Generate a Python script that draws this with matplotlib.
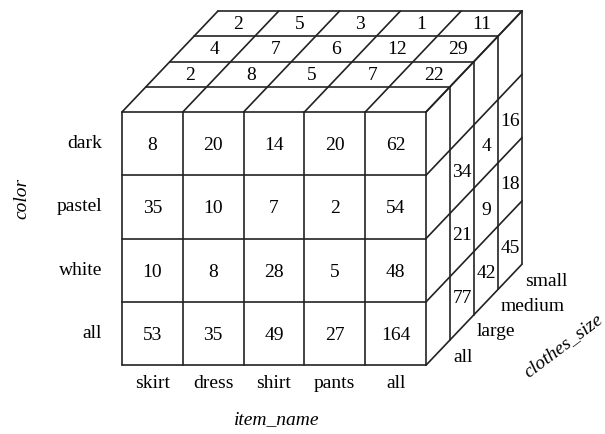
import matplotlib.pyplot as plt

# data cube: item_name x color x clothes_size
items = ['skirt', 'dress', 'shirt', 'pants', 'all']
colors = ['dark', 'pastel', 'white', 'all']
sizes = ['all', 'large', 'medium', 'small']

# front face (size = all)
front_dark = [8, 20, 14, 20, 62]
front_pastel = [35, 10, 7, 2, 54]
front_white = [10, 8, 28, 5, 48]
front_all = [53, 35, 49, 27, 164]

# top face (color = dark) per size
top_large = [2, 8, 5, 7, 22]
top_medium = [4, 7, 6, 12, 29]
top_small = [2, 5, 3, 1, 11]

# right face (item = all), rows pastel / white / all
side_large = [34, 21, 77]
side_medium = [4, 9, 42]
side_small = [16, 18, 45]

plt.rcParams['font.family'] = ['Liberation Serif', 'DejaVu Serif']
FS = 14

fig = plt.figure(figsize=(6.05, 4.34), dpi=100)
ax = fig.add_axes([0, 0, 1, 1])
ax.set_xlim(0, 605)
ax.set_ylim(434, 0)
ax.axis('off')

# cube geometry (pixels)
x0, y0 = 122, 112
cw, rh = 60.8, 63.3
dx, dy = 24, 25.25
nc, nr, nd = len(items), len(colors), len(sizes)
xr = x0 + nc * cw
yb = y0 + nr * rh
lk = dict(color='#222222', lw=1.2, solid_capstyle='round')

# front face
for r in range(nr + 1):
    ax.plot([x0, xr], [y0 + r * rh] * 2, **lk)
for c in range(nc + 1):
    ax.plot([x0 + c * cw] * 2, [y0, yb], **lk)
# top face
for k in range(1, nd + 1):
    ax.plot([x0 + dx * k, xr + dx * k], [y0 - dy * k] * 2, **lk)
for c in range(nc + 1):
    ax.plot([x0 + c * cw, x0 + c * cw + nd * dx], [y0, y0 - nd * dy], **lk)
# right face
for k in range(1, nd + 1):
    ax.plot([xr + dx * k] * 2, [y0 - dy * k, yb - dy * k], **lk)
for r in range(nr + 1):
    ax.plot([xr, xr + nd * dx], [y0 + r * rh, y0 + r * rh - nd * dy], **lk)

# front numbers
for r, row in enumerate([front_dark, front_pastel, front_white, front_all]):
    for c, v in enumerate(row):
        ax.text(x0 + (c + 0.5) * cw, y0 + (r + 0.5) * rh + 2, str(v),
                ha='center', va='center', fontsize=FS)

# top numbers
for j, row in [(1, top_large), (2, top_medium), (3, top_small)]:
    for c, v in enumerate(row):
        ax.text(x0 + (c + 0.5) * cw + (j + 0.5) * dx + 2, y0 - (j + 0.5) * dy + 1,
                str(v), ha='center', va='center', fontsize=FS)

# side numbers
for j, col in [(1, side_large), (2, side_medium), (3, side_small)]:
    for r, v in enumerate(col):
        ax.text(xr + (j + 0.5) * dx, y0 + (r + 1.5) * rh - (j + 0.5) * dy + 3,
                str(v), ha='center', va='center', fontsize=FS)

# labels
for r, name in enumerate(colors):
    ax.text(102, y0 + (r + 0.5) * rh, name, ha='right', va='center', fontsize=FS)
for c, name in enumerate(items):
    ax.text(x0 + (c + 0.5) * cw, 383, name, ha='center', va='center', fontsize=FS)
for k, name in enumerate(sizes):
    ax.text(453 + k * dx, 357 - k * dy, name, ha='left', va='center', fontsize=FS)

ax.text(22, 198, 'color', rotation=90, style='italic', ha='center', va='center',
        fontsize=FS)
ax.text(277, 420, 'item_name', style='italic', ha='center', va='center', fontsize=FS)
ax.text(563, 346, 'clothes_size', rotation=37, style='italic', ha='center',
        va='center', fontsize=FS, rotation_mode='anchor')

fig.savefig('out.png', dpi=100)
